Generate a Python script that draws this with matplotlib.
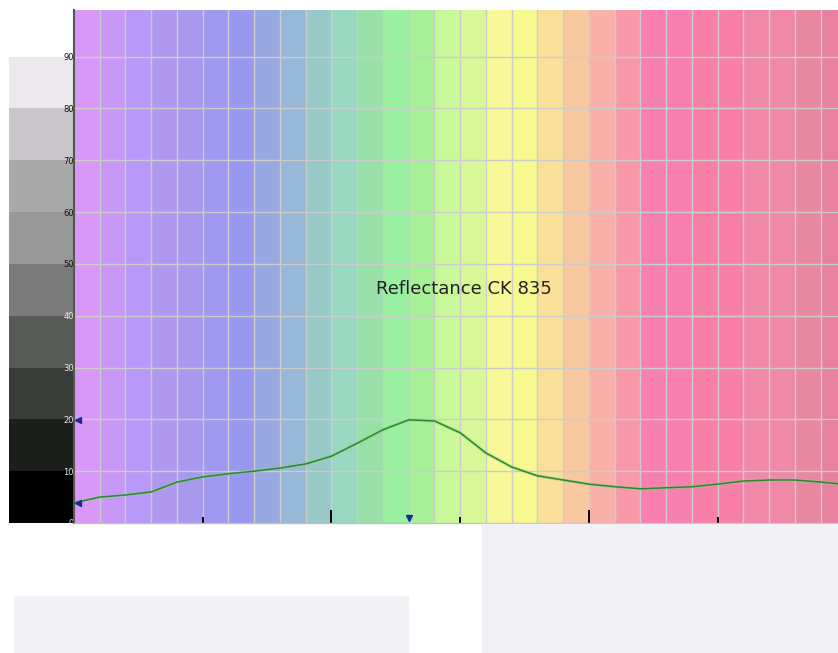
import matplotlib
matplotlib.use('Agg')

import matplotlib.pyplot as plt
from matplotlib.patches import Rectangle

# Reflectance curve (nm, %)
wavelengths = [380, 390, 400, 410, 420, 430, 440, 450, 460, 470,
               480, 490, 500, 510, 520, 530, 540, 550, 560, 570,
               580, 590, 600, 610, 620, 630, 640, 650, 660, 670, 680]
reflectance = [3.9, 5.0, 5.4, 6.0, 7.9, 8.9, 9.5, 10.0, 10.6, 11.4,
               12.9, 15.4, 18.0, 19.9, 19.7, 17.4, 13.5, 10.8, 9.1, 8.3,
               7.5, 7.0, 6.6, 6.8, 7.0, 7.5, 8.1, 8.3, 8.3, 7.9, 7.4]

# Spectrum background bands, one per 10 nm starting at 380
band_colors = ['#d898f8', '#c898f8', '#b898f8', '#b098f0', '#a898f0',
               '#a098f0', '#9898f0', '#98a8e0', '#98b8d8', '#98c8c8',
               '#98d8c0', '#98e0a8', '#98f0a0', '#a8f098', '#c8f898',
               '#d8f898', '#f8f898', '#f8f890', '#f8e098', '#f8c8a0',
               '#f8b0a8', '#f898a8', '#f880b0', '#f880b0', '#f880a8',
               '#f880a8', '#f088a8', '#f088a8', '#e888a0', '#e880a0']

# Grey scale strip on the left, one per 10 %
gray_levels = ['#000000', '#1c1e1c', '#3a3c3a', '#585a58', '#7a7a7a',
               '#989898', '#a9a9a9', '#c8c6c8', '#ece9ec']

y_ticks = [0, 10, 20, 30, 40, 50, 60, 70, 80, 90]
major_ticks = [480, 580]
minor_ticks = [430, 530, 630]
title = 'Reflectance CK 835'

fig = plt.figure(figsize=(8.38, 6.53), dpi=100)
fig.patch.set_facecolor('white')

# light panels below the chart
fig.patches.append(Rectangle((482 / 838, 0), 356 / 838, 129 / 653,
                             transform=fig.transFigure, color='#f2f1f6', zorder=0))
fig.patches.append(Rectangle((14 / 838, 0), 394 / 838, 57 / 653,
                             transform=fig.transFigure, color='#f2f1f6', zorder=0))

ax = fig.add_axes([74 / 838, 1 - 523 / 653, 1 - 74 / 838, 513 / 653])
ax.set_xlim(380, 676.7)
ax.set_ylim(0, 99)

for i, c in enumerate(band_colors):
    ax.axvspan(380 + 10 * i, 390 + 10 * i, color=c, lw=0, zorder=0)

# grey strip outside the axes on the left
strip_w = 25.2
for i, c in enumerate(gray_levels):
    ax.add_patch(Rectangle((380 - strip_w, 10 * i), strip_w, 10, color=c,
                           lw=0, clip_on=False, zorder=0))

for x in range(390, 680, 10):
    ax.axvline(x, color='#cccccc', lw=1, zorder=1)
for y in y_ticks[1:]:
    ax.axhline(y, color='#cccccc', lw=1, zorder=1)

ax.plot(wavelengths, reflectance, color='#8fcf8f', lw=2.4, alpha=0.5, zorder=2)
ax.plot(wavelengths, reflectance, color='#2a8a2a', lw=1.1, zorder=3)

# markers for max / min and peak wavelength
peak = max(reflectance)
low = min(reflectance)
peak_wl = wavelengths[reflectance.index(peak)]
ax.plot([381.5, 381.5], [peak, low], ls='none', marker='<', ms=4,
        color='#1a2a9a', clip_on=False, zorder=4)
ax.plot([peak_wl], [0.9], marker='v', ms=4, color='#1a2a9a', zorder=4)

ax.text(531.5, 45.2, title, fontsize=13, color='#222222',
        ha='center', va='center', zorder=5)

ax.set_yticks(y_ticks)
ax.set_yticklabels([str(v) for v in y_ticks], fontsize=6, color='#111111')
for v, lab in zip(y_ticks, ax.get_yticklabels()):
    if v <= 40:
        lab.set_color('#e8e8e8')
ax.tick_params(axis='y', length=0, pad=0)

ax.set_xticks(major_ticks)
ax.set_xticks(minor_ticks, minor=True)
ax.set_xticklabels([])
ax.tick_params(axis='x', which='major', direction='in', length=9.5,
               width=1.4, color='black')
ax.tick_params(axis='x', which='minor', direction='in', length=4.5,
               width=1.4, color='black')

for s in ['top', 'right']:
    ax.spines[s].set_visible(False)
ax.spines['left'].set_color('#555555')
ax.spines['left'].set_linewidth(1.5)
ax.spines['bottom'].set_color('#c0c0c0')
ax.spines['bottom'].set_linewidth(1)

fig.savefig('out.png', dpi=100)
